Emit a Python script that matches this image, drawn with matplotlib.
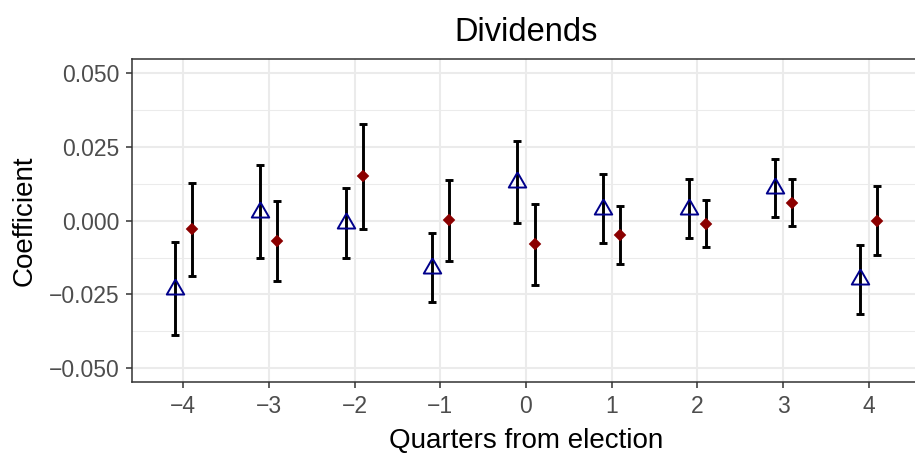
import numpy as np
import matplotlib
matplotlib.use("Agg")
import matplotlib.pyplot as plt

plt.rcParams['font.family'] = ['Liberation Sans', 'DejaVu Sans']

# Event-study estimates, quarters relative to the election
quarters = np.array([-4, -3, -2, -1, 0, 1, 2, 3, 4])

# first specification (hollow triangles)
coef_a = np.array([-0.0230, 0.0030, -0.0009, -0.0159, 0.0131, 0.0041, 0.0041, 0.0111, -0.0199])
ci_a = np.array([0.0157, 0.0157, 0.0119, 0.0118, 0.0138, 0.0118, 0.0099, 0.0098, 0.0118])

# second specification (filled diamonds)
coef_b = np.array([-0.0029, -0.0069, 0.0150, 0.0001, -0.0080, -0.0049, -0.0010, 0.0061, 0.0000])
ci_b = np.array([0.0157, 0.0137, 0.0177, 0.0138, 0.0138, 0.0099, 0.0079, 0.0079, 0.0118])

yticks = [-0.050, -0.025, 0.000, 0.025, 0.050]
ytick_labels = ['\u22120.050', '\u22120.025', '0.000', '0.025', '0.050']
xtick_labels = ['\u22124', '\u22123', '\u22122', '\u22121', '0', '1', '2', '3', '4']

dodge = 0.1

# R-style triangle: centroid sits on the data point
tri = [(0, 1.555), (1.347, -0.778), (-1.347, -0.778), (0, 1.555)]

fig = plt.figure(figsize=(9.15, 4.53), dpi=100)
ax = fig.add_axes([0.1439, 0.156, 0.8618, 0.7138])

ax.errorbar(quarters - dodge, coef_a, yerr=ci_a, fmt='none', ecolor='black',
            elinewidth=2.1, capsize=3.2, capthick=2.1, zorder=3)
ax.errorbar(quarters + dodge, coef_b, yerr=ci_b, fmt='none', ecolor='black',
            elinewidth=2.1, capsize=3.2, capthick=2.1, zorder=3)
ax.plot(quarters - dodge, coef_a, linestyle='none', marker=tri, markersize=14.5,
        markerfacecolor='none', markeredgecolor='#00008B', markeredgewidth=1.4, zorder=4)
ax.plot(quarters + dodge, coef_b, linestyle='none', marker='D', markersize=6.2,
        color='#8B0000', markeredgewidth=0.3, zorder=4)

ax.set_xlim(-4.6, 4.6)
ax.set_ylim(-0.0548, 0.0548)
ax.set_xticks(quarters)
ax.set_xticklabels(xtick_labels)
ax.set_yticks(yticks)
ax.set_yticklabels(ytick_labels)
ax.set_yticks([-0.0375, -0.0125, 0.0125, 0.0375], minor=True)

ax.set_axisbelow(True)
ax.grid(which='major', color='#EBEBEB', linewidth=1.45)
ax.grid(which='minor', axis='y', color='#EBEBEB', linewidth=0.75)
ax.tick_params(which='minor', length=0)
ax.tick_params(which='major', length=4.5, width=1.1, color='#333333',
               labelsize=16.5, labelcolor='#4D4D4D', pad=4.5)
for s in ax.spines.values():
    s.set_color('#333333')
    s.set_linewidth(1.1)

ax.set_title('Dividends', fontsize=23.5, pad=13)
ax.set_xlabel('Quarters from election', fontsize=20, labelpad=7)
ax.set_ylabel('Coefficient', fontsize=20, labelpad=8)

fig.savefig('out.png', dpi=100)
